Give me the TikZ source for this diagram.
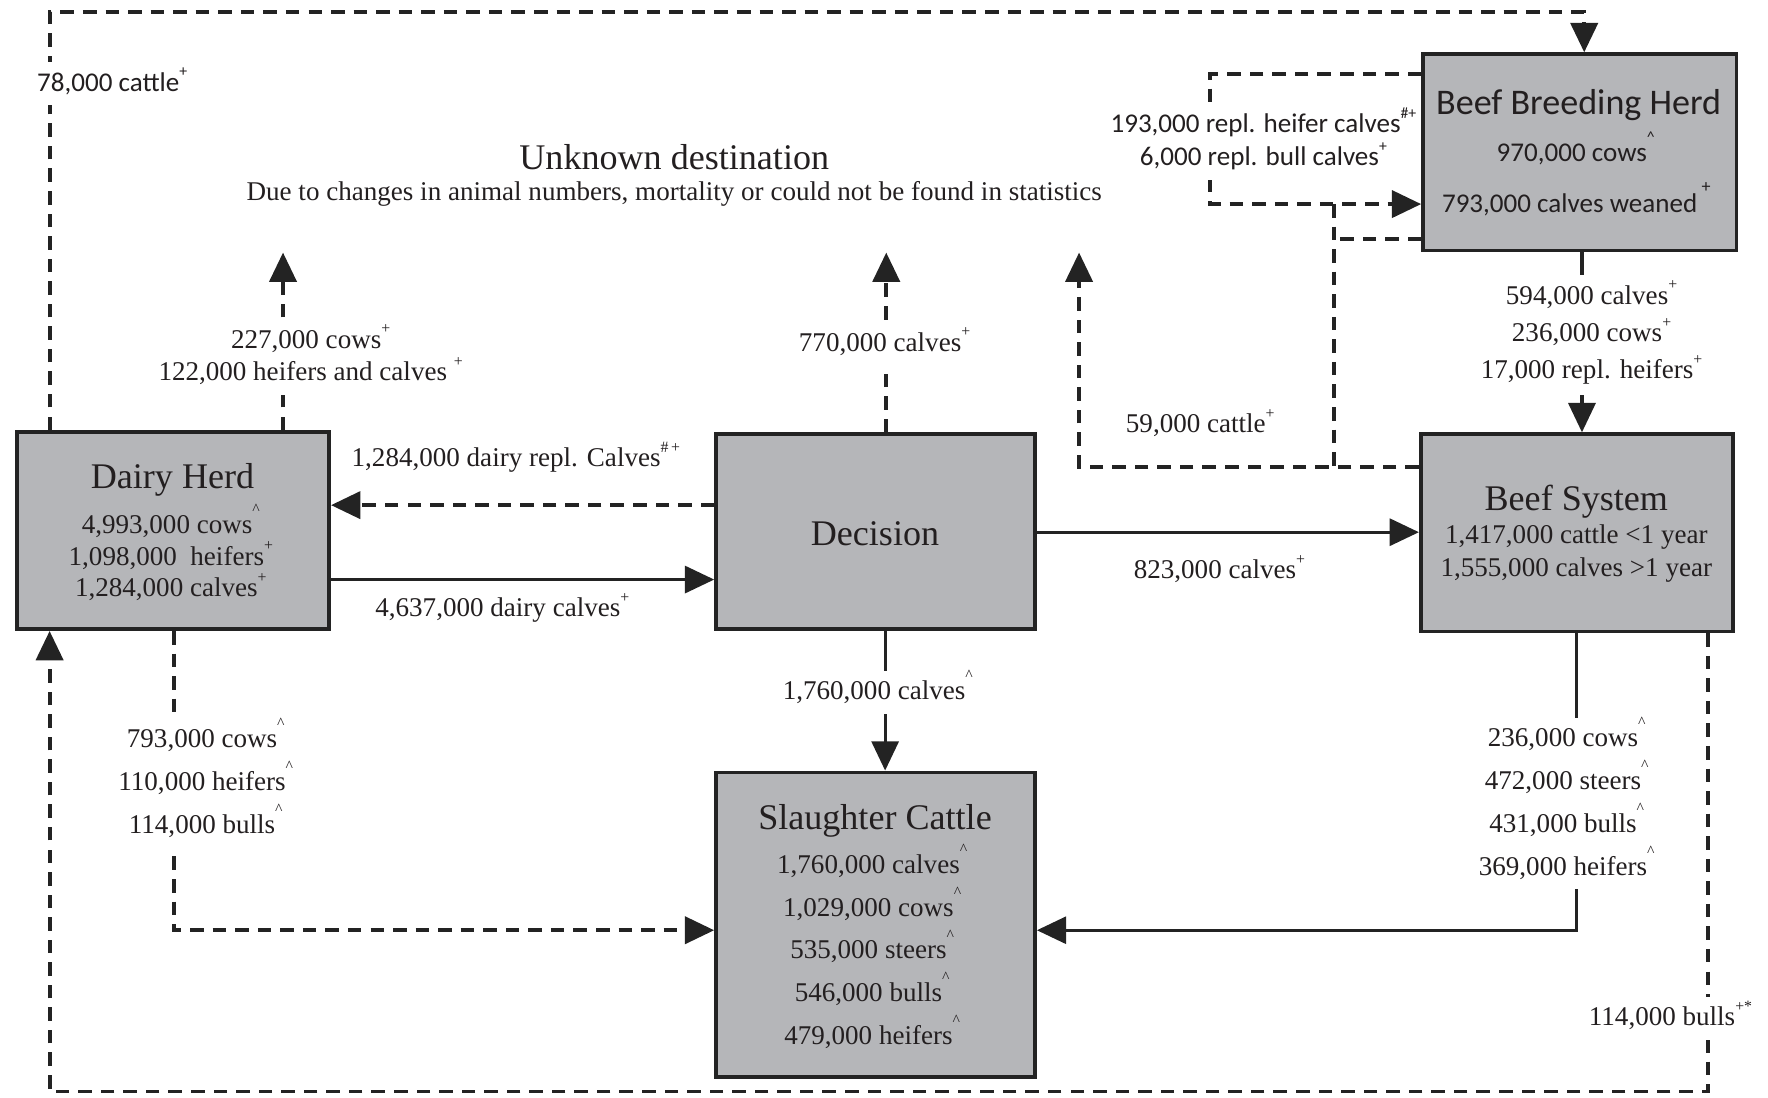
\documentclass[tikz,border=0pt]{standalone}
\usepackage{fontspec}
\setmainfont{Liberation Serif}
\newfontfamily\calib{Carlito}
\usetikzlibrary{arrows.meta}
\definecolor{boxgray}{RGB}{181,182,185}
\definecolor{edgec}{RGB}{35,35,35}
\definecolor{txtc}{RGB}{35,31,32}
\newcommand\sps[1]{\smash{\raisebox{2pt}{\textsuperscript{\fontsize{7}{7}\selectfont #1}}}}
\newcommand\crt{\smash{\raisebox{4pt}{\textsuperscript{\fontsize{7}{7}\selectfont\textasciicircum}}}}
\begin{document}
\begin{tikzpicture}[x=0.5pt,y=-0.5pt,
  box/.style={draw=edgec,line width=1.6pt,fill=boxgray,inner sep=0pt},
  dline/.style={line width=1.7pt,dash pattern=on 6pt off 4pt,draw=edgec},
  sline/.style={line width=1.4pt,draw=edgec},
  arr/.style={-{Triangle[length=13pt,width=12pt]}},
  lbl/.style={fill=white,inner xsep=1.5pt,inner ysep=4.5pt,text=txtc,align=center,font=\fontsize{12}{14.5}\selectfont},
  btxt/.style={inner sep=0pt,text=txtc,align=center,font=\fontsize{12}{14}\selectfont},
  ttl/.style={inner sep=0pt,text=txtc,font=\fontsize{16}{19}\selectfont}]
\useasboundingbox (0,0) rectangle (1568,973);

% boxes
\node[box,minimum width=138.5pt,minimum height=87.5pt] (DH) at (153.5,470.5) {};
\node[box,minimum width=141.5pt,minimum height=86.5pt] (DE) at (776.5,471.5) {};
\node[box,minimum width=138.5pt,minimum height=87.5pt] (BS) at (1398.5,472.5) {};
\node[box,minimum width=139pt,minimum height=87pt] (BBH) at (1401,135) {};
\node[box,minimum width=141.5pt,minimum height=135pt] (SC) at (776.5,820) {};

% reference coordinates
\coordinate (xL) at (44,0);
\coordinate (xDHup) at (251,0);
\coordinate (xDEup) at (786,0);
\coordinate (xU3) at (957,0);
\coordinate (xJ) at (1183,0);
\coordinate (xR) at (1073,0);
\coordinate (xBB) at (1405,0);
\coordinate (xBBdown) at (1403,0);
\coordinate (xDEdown) at (785,0);
\coordinate (xDHdown) at (154,0);
\coordinate (xBSdown) at (1398,0);
\coordinate (xBSr) at (1515,0);
\coordinate (yTop) at (0,11);
\coordinate (yUp) at (0,224);
\coordinate (y66) at (0,66);
\coordinate (y181) at (0,181);
\coordinate (y212) at (0,212);
\coordinate (y414) at (0,414);
\coordinate (y448) at (0,448);
\coordinate (y514) at (0,514);
\coordinate (y472) at (0,472);
\coordinate (y825) at (0,825);
\coordinate (y968) at (0,968);

% connectors
\draw[dline,arr] (DH.north -| xL) -- (xL |- yTop) -- (xBB |- yTop) -- (BBH.north -| xBB);
\draw[dline,arr] (DH.north -| xDHup) -- (xDHup |- yUp);
\draw[dline,arr] (DE.north -| xDEup) -- (xDEup |- yUp);
\draw[dline,arr] (BS.west |- y414) -- (xU3 |- y414) -- (xU3 |- yUp);
\draw[dline] (BBH.west |- y212) -- (xJ |- y212);
\draw[dline] (xJ |- y181) -- (xJ |- y414);
\draw[dline,arr] (BBH.west |- y66) -- (xR |- y66) -- (xR |- y181) -- (BBH.west |- y181);
\draw[dline,arr] (DE.west |- y448) -- (DH.east |- y448);
\draw[sline,arr] (DH.east |- y514) -- (DE.west |- y514);
\draw[sline,arr] (DE.east |- y472) -- (BS.west |- y472);
\draw[sline,arr] (BBH.south -| xBBdown) -- (BS.north -| xBBdown);
\draw[sline,arr] (DE.south -| xDEdown) -- (SC.north -| xDEdown);
\draw[dline,arr] (DH.south -| xDHdown) -- (xDHdown |- y825) -- (SC.west |- y825);
\draw[sline,arr] (BS.south -| xBSdown) -- (xBSdown |- y825) -- (SC.east |- y825);
\draw[dline,arr] (BS.south -| xBSr) -- (xBSr |- y968) -- (xL |- y968) -- (DH.south -| xL);

% header
\node[ttl] (T1) at (598,139) {Unknown destination};
\node[btxt] (T2) at (598,172) {Due to changes in animal numbers, mortality or could not be found in statistics};

% connector labels
\node[lbl] (L78) at (100,74) {\calib 78,000 cattle\sps{+}};
\node[lbl] (L227) at (276,317) {227,000 cows\sps{+}\\122,000 heifers and calves \sps{+}};
\node[lbl] (L770) at (785,305) {770,000 calves\sps{+}};
\node[lbl] (L59) at (1065,377) {59,000 cattle\sps{+}};
\node[lbl] (L193) at (1121,126) {\calib 193,000 repl. heifer calves\sps{\#+}\\\calib 6,000 repl. bull calves\sps{+}};
\node[lbl] (L1284) at (458,408) {1,284,000 dairy repl. Calves\sps{\#\,+}};
\node[lbl] (L4637) at (446,541) {4,637,000 dairy calves\sps{+}};
\node[lbl] (L823) at (1082,507) {823,000 calves\sps{+}};
\node[lbl,font=\fontsize{12}{16.5}\selectfont] (L594) at (1412,297) {594,000 calves\sps{+}\\236,000 cows\sps{+}\\17,000 repl. heifers\sps{+}};
\node[lbl] (L1760) at (779,614) {1,760,000 calves\crt};
\node[lbl,font=\fontsize{12}{19}\selectfont] (L793) at (183,695) {793,000 cows\crt\\110,000 heifers\crt\\114,000 bulls\crt};
\node[lbl,font=\fontsize{12}{19}\selectfont] (L236) at (1390,713) {236,000 cows\crt\\472,000 steers\crt\\431,000 bulls\crt\\369,000 heifers\crt};
\node[lbl] (L114) at (1482,903) {114,000 bulls\sps{+*}};

% box texts
\node[ttl] (DHt) at (153,426) {Dairy Herd};
\node[btxt] (DHc) at (152,495) {4,993,000 cows\crt\\1,098,000~~heifers\sps{+}\\1,284,000 calves\sps{+}};
\node[ttl] (DEt) at (776,473) {Decision};
\node[ttl] (BSt) at (1398,445) {Beef System};
\node[btxt,font=\fontsize{12}{14.5}\selectfont] (BSc) at (1398,491) {1,417,000 cattle <1 year\\1,555,000 calves >1 year};
\node[ttl] (BBHt) at (1400,93) {\calib Beef Breeding Herd};
\node[btxt] (BBHc1) at (1398,137) {\calib 970,000 cows\crt};
\node[btxt] (BBHc2) at (1398,182) {\calib 793,000 calves weaned\,\smash{\raisebox{9pt}{\fontsize{8}{8}\selectfont +}}};
\node[ttl] (SCt) at (776,728) {Slaughter Cattle};
\node[btxt,font=\fontsize{12}{19}\selectfont] (SCc) at (774,844) {1,760,000 calves\crt\\1,029,000 cows\crt\\535,000 steers\crt\\546,000 bulls\crt\\479,000 heifers\crt};
\end{tikzpicture}
\end{document}
